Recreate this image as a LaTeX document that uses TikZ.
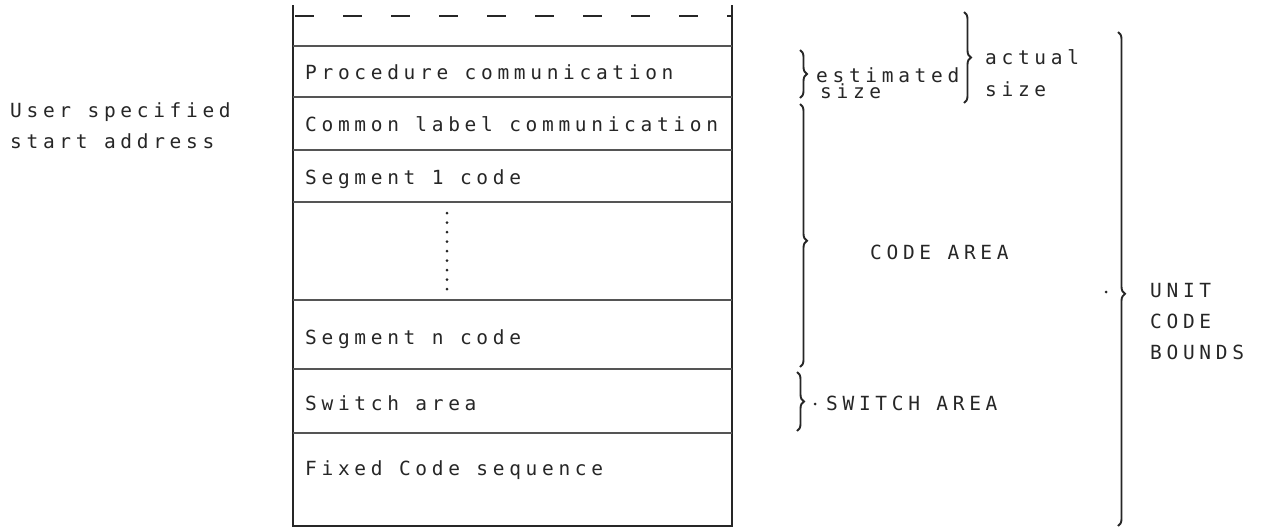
\documentclass[tikz,border=0pt]{standalone}
\usepackage{fontspec}
\newfontfamily\twfont[LetterSpace=24]{DejaVu Sans Mono}
\usetikzlibrary{decorations.pathreplacing}
\definecolor{ink}{HTML}{262626}
\definecolor{rule}{HTML}{555555}
\begin{document}
\begin{tikzpicture}[x=1pt,y=-1pt,
  tw/.style={font=\twfont\fontsize{19.5}{31}\selectfont, text=ink, inner sep=0pt, anchor=base west},
  border/.style={draw=ink, line width=2.3pt},
  rowline/.style={draw=rule, line width=1.9pt},
  brc/.style={decorate, decoration={brace, amplitude=7pt, raise=0pt}, draw=ink, line width=1.9pt},
  tdot/.style={circle, fill=ink, inner sep=0pt, minimum size=3pt}]
\useasboundingbox (0,0) rectangle (1286,528);

% memory box
\coordinate (TL) at (293,5);
\coordinate (BL) at (293,526);
\coordinate (TR) at (732,5);
\coordinate (BR) at (732,526);
\draw[border] (TL) -- (BL) -- (BR) -- (TR);
\coordinate (dL) at (295,16);
\coordinate (dR) at (732,16);
\draw[draw=ink, line width=2.2pt, dash pattern=on 19pt off 29pt] (dL) -- (dR);
\foreach \yy/\nm in {46/a,97/b,150/c,202/d,300/e,369/f,433/g}{
  \coordinate (l\nm) at (293,\yy);
  \coordinate (r\nm) at (732,\yy);
  \draw[rowline] (l\nm) -- (r\nm);
}
\coordinate (vT) at (447,213);
\coordinate (vB) at (447,292);
\draw[draw=ink, line width=3pt, line cap=round, dash pattern=on 0pt off 9.5pt] (vT) -- (vB);

% row texts
\node[tw] (r1) at (305,79) {Procedure communication};
\node[tw] (r2) at (305,131) {Common label communication};
\node[tw] (r3) at (305,184) {Segment 1 code};
\node[tw] (r4) at (305,344) {Segment n code};
\node[tw] (r5) at (305,410) {Switch area};
\node[tw] (r6) at (305,475) {Fixed Code sequence};

% left label
\node[tw] (u1) at (10,117) {User specified};
\node[tw] (u2) at (10,148) {start address};

% braces
\coordinate (eT) at (800,50);  \coordinate (eB) at (800,98);
\draw[brc] (eT) -- (eB);
\node[tw] (est) at (816,82) {estimated};
\node[tw] (esz) at (820,98) {size};

\coordinate (aT) at (964,12);  \coordinate (aB) at (964,103);
\draw[brc] (aT) -- (aB);
\node[tw] (act) at (985,64) {actual};
\node[tw] (asz) at (985,96) {size};

\coordinate (cT) at (800,104);  \coordinate (cB) at (800,367);
\draw[brc, decoration={aspect=0.52}] (cT) -- (cB);
\node[tw] (code) at (870,259) {CODE AREA};

\coordinate (sT) at (797,372);  \coordinate (sB) at (797,431);
\draw[brc] (sT) -- (sB);
\node[tdot] (sdot) at (815,404) {};
\node[tw] (sw) at (826,410) {SWITCH AREA};

\coordinate (uT) at (1118,32);  \coordinate (uB) at (1118,526);
\draw[brc, decoration={aspect=0.53}] (uT) -- (uB);
\node[tdot] (udot) at (1106,292) {};
\node[tw] (un1) at (1150,297) {UNIT};
\node[tw] (un2) at (1150,328) {CODE};
\node[tw] (un3) at (1150,359) {BOUNDS};
\end{tikzpicture}
\end{document}
